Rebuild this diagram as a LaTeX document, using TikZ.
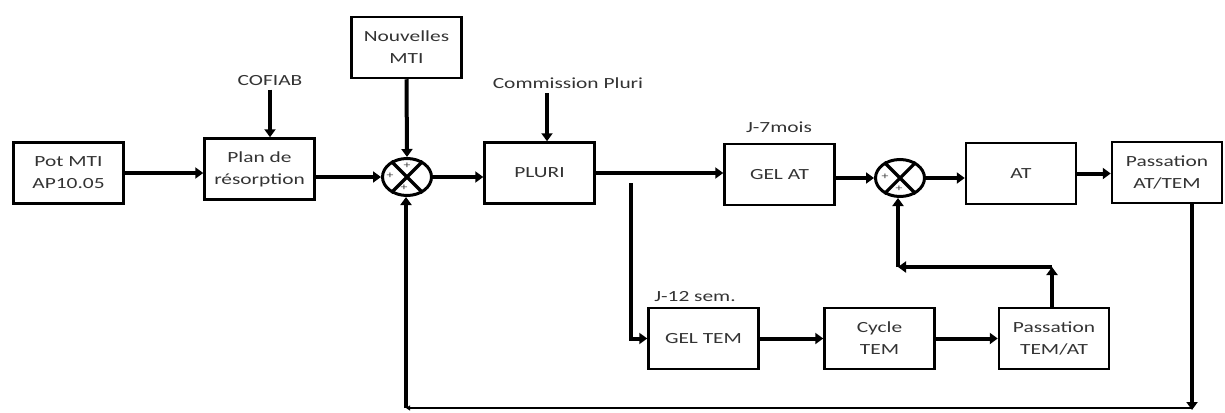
\documentclass[tikz,border=0pt]{standalone}
\usepackage{fontspec}
\setmainfont[FakeStretch=1.38]{Carlito}
\usetikzlibrary{arrows.meta,shapes.geometric}
\begin{document}
\begin{tikzpicture}[x=1pt,y=-1pt,
  box/.style={draw, line width=2.5pt, minimum width=110pt, minimum height=61pt,
    align=center, inner sep=2pt, text=black!80, font=\fontsize{15.5}{22}\selectfont},
  lbl/.style={text=black!80, font=\fontsize{15.5}{18}\selectfont},
  sum/.style={draw, ellipse, line width=3pt, minimum width=49pt, minimum height=37pt, inner sep=0pt},
  plus/.style={text=black!75, font=\fontsize{10}{10}\selectfont, inner sep=0pt},
  arr/.style={line width=4pt, -{Triangle[length=8pt,width=11pt]}},
  thinarr/.style={line width=1.5pt, -{Triangle[length=4pt,width=5pt]}}]
\useasboundingbox (0,0) rectangle (1225,412);

% boxes
\node[box] (pot)    at (68.5,173)   {Pot MTI\\AP10.05};
\node[box] (plan)   at (259.5,169)  {Plan de\\résorption};
\node[box] (nouv)   at (406.5,47.5) {Nouvelles\\MTI};
\node[box] (pluri)  at (539.5,173)  {PLURI};
\node[box] (gelat)  at (779.5,174.5){GEL AT};
\node[box] (at)     at (1021,173.5) {AT};
\node[box] (pass1)  at (1167,172.5) {Passation\\AT/TEM};
\node[box] (geltem) at (703.5,338.5){GEL TEM};
\node[box] (cycle)  at (879.5,338.5){Cycle\\TEM};
\node[box] (pass2)  at (1054,338.5) {Passation\\TEM/AT};

% summation points
\node[sum] (s1) at (407,177) {};
\node[sum] (s2) at (900,178) {};
\draw[line width=3.2pt] (s1.45) -- (s1.225) (s1.135) -- (s1.315);
\draw[line width=3.2pt] (s2.45) -- (s2.225) (s2.135) -- (s2.315);
\node[plus] (p1t) at (407,166) {+};
\node[plus] (p1l) at (390,176) {+};
\node[plus] (p1b) at (404,188) {+};
\node[plus] (p2l) at (885,177) {+};
\node[plus] (p2b) at (899,189) {+};

% labels
\node[lbl] (cofiab) at (270,81)  {COFIAB};
\node[lbl] (comm)   at (568,83)  {Commission Pluri};
\node[lbl] (j7)     at (779,127) {J-7mois};
\node[lbl] (j12)    at (695,297) {J-12 sem.};

% coordinates
\coordinate (commA) at (547,93);
\coordinate (br)    at (631,183);
\coordinate (fbR)   at (1052,267);
\coordinate (fbL)   at (898,267);
\coordinate (bR)    at (1192,410);
\coordinate (bR2)   at (1192,408);
\coordinate (bL)    at (406,408);

% connectors
\draw[arr] (cofiab.south) -- (cofiab.south |- plan.north);
\draw[arr] (commA) -- (commA |- pluri.north);
\draw[arr] (nouv.south) -- (s1.north);
\draw[arr] (pot.east) -- (pot.east -| plan.west);
\draw[arr] (plan.east |- s1) -- (s1.west);
\draw[arr] (s1.east) -- (s1.east -| pluri.west);
\draw[arr] (pluri.east) -- (pluri.east -| gelat.west);
\draw[arr] (gelat.east |- s2) -- (s2.west);
\draw[arr] (s2.east) -- (s2.east -| at.west);
\draw[arr] (at.east) -- (at.east -| pass1.west);
\draw[arr] (br) |- (geltem.west);
\draw[arr] (geltem.east) -- (cycle.west);
\draw[arr] (cycle.east) -- (pass2.west);
\draw[arr] (pass2.north -| fbR) -- (fbR);
\draw[arr] (fbR) -- (fbL);
\draw[arr] (fbL) -- (fbL |- s2.south);
\draw[arr] (pass1.south -| bR) -- (bR);
\draw[thinarr] (bR2) -- (bL);
\draw[arr] (bL) -- (bL |- s1.south);
\end{tikzpicture}
\end{document}
